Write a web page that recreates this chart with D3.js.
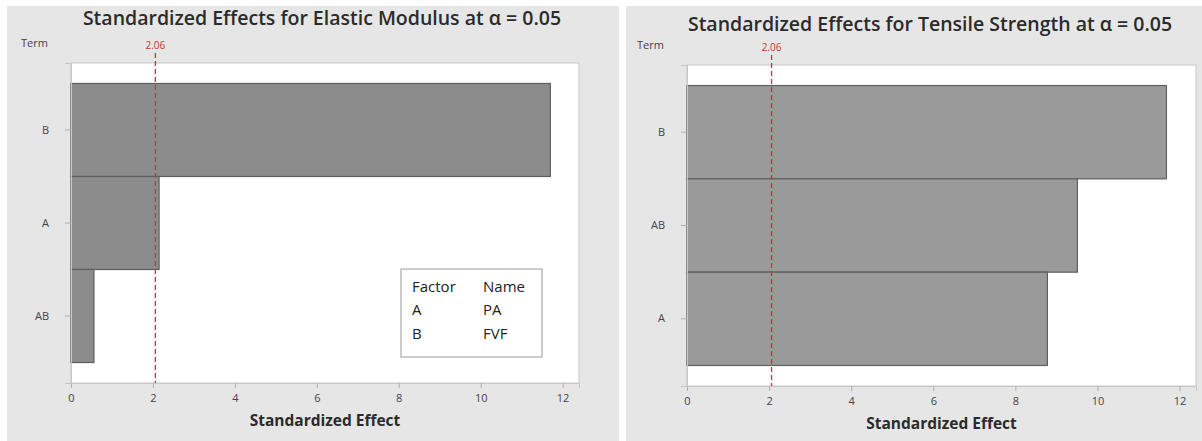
<!DOCTYPE html>
<html>
<head>
<meta charset="utf-8">
<script src="https://d3js.org/d3.v7.min.js"></script>
<style>
  body { margin: 0; background: #fff; }
  text { font-family: "Open Sans", "Noto Sans", sans-serif; }
</style>
</head>
<body>
<svg id="chart" width="1202" height="441"></svg>
<script>
// data
var termsElastic = ["B", "A", "AB"];
var effectsElastic = [11.7, 2.15, 0.56];
var termsTensile = ["B", "AB", "A"];
var effectsTensile = [11.68, 9.51, 8.78];
var xTicks = [0, 2, 4, 6, 8, 10, 12];
var criticalValue = 2.06;
var legendFactors = ["A", "B"];
var legendNames = ["PA", "FVF"];

var svg = d3.select("#chart");

function drawPanel(opt) {
  var g = svg.append("g").attr("transform", "translate(" + opt.x + "," + opt.y + ")");

  // panel background
  g.append("rect")
    .attr("width", opt.w).attr("height", opt.h)
    .attr("fill", "#e6e6e6");

  var pw = opt.plotRight - opt.plotLeft,
      ph = opt.plotBottom - opt.plotTop;
  var x = d3.scaleLinear().domain([0, opt.xMax]).range([0, pw]);
  var y = d3.scaleBand().domain(opt.terms).range([0, ph]).paddingInner(0).paddingOuter(0.22);

  var p = g.append("g").attr("transform", "translate(" + opt.plotLeft + "," + opt.plotTop + ")");

  p.append("rect")
    .attr("width", pw).attr("height", ph)
    .attr("fill", "#fff").attr("stroke", "#c8c8c8");

  // bars
  p.selectAll(".bar")
    .data(opt.values)
    .enter().append("rect")
    .attr("x", x(0))
    .attr("y", function(d, i) { return y(opt.terms[i]); })
    .attr("width", function(d) { return x(d); })
    .attr("height", y.bandwidth())
    .attr("fill", opt.barFill)
    .attr("stroke", "#5e5e5e")
    .attr("stroke-width", 1.2);

  // x axis
  var xa = p.append("g")
    .attr("transform", "translate(0," + ph + ")")
    .call(d3.axisBottom(x).tickValues(xTicks).tickSize(5).tickPadding(6));
  xa.select(".domain").attr("stroke", "#c8c8c8");
  xa.selectAll("line").attr("stroke", "#b0b0b0");
  xa.selectAll("text").attr("fill", "#444").style("font-size", "11px");

  // y axis
  var ya = p.append("g")
    .call(d3.axisLeft(y).tickSize(6).tickPadding(16));
  ya.select(".domain").attr("stroke", "#c8c8c8");
  ya.selectAll("line").attr("stroke", "#b0b0b0");
  ya.selectAll("text").attr("fill", "#444").style("font-size", "11px");

  // reference line
  p.append("line")
    .attr("x1", x(criticalValue)).attr("x2", x(criticalValue))
    .attr("y1", -10).attr("y2", ph)
    .attr("stroke", "#c8323c").attr("stroke-width", 1.3)
    .attr("stroke-dasharray", "5,3");
  p.append("text")
    .attr("x", x(criticalValue)).attr("y", -14)
    .attr("text-anchor", "middle")
    .attr("fill", "#c0392b").style("font-size", "10px")
    .text(criticalValue.toFixed(2));

  // title and labels
  g.append("text")
    .attr("x", opt.titleX).attr("y", opt.titleY)
    .attr("text-anchor", "middle")
    .attr("fill", "#2b2b2b").style("font-size", "19.5px").style("font-weight", 600)
    .text(opt.title);
  g.append("text")
    .attr("x", opt.termX).attr("y", opt.plotTop - 16)
    .attr("fill", "#444").style("font-size", "11px")
    .text("Term");
  g.append("text")
    .attr("x", opt.plotLeft + pw / 2).attr("y", opt.plotBottom + 43)
    .attr("text-anchor", "middle")
    .attr("fill", "#2b2b2b").style("font-size", "15.5px").style("font-weight", "bold")
    .text("Standardized Effect");

  return { g: g, p: p, x: x, y: y };
}

var left = drawPanel({
  x: 7, y: 6, w: 612, h: 435,
  plotLeft: 64, plotRight: 572, plotTop: 57, plotBottom: 377,
  xMax: 12.4, terms: termsElastic, values: effectsElastic,
  barFill: "#8c8c8c",
  title: "Standardized Effects for Elastic Modulus at \u03b1 = 0.05",
  titleX: 315, titleY: 19, termX: 14
});

drawPanel({
  x: 626, y: 6, w: 576, h: 435,
  plotLeft: 61, plotRight: 570, plotTop: 59, plotBottom: 380,
  xMax: 12.4, terms: termsTensile, values: effectsTensile,
  barFill: "#9a9a9a",
  title: "Standardized Effects for Tensile Strength at \u03b1 = 0.05",
  titleX: 304, titleY: 25, termX: 11
});

// legend box in the left panel
var lg = left.p.append("g").attr("transform", "translate(330,206)");
lg.append("rect")
  .attr("width", 141).attr("height", 88)
  .attr("fill", "#fff").attr("stroke", "#999");
lg.append("text").attr("x", 11).attr("y", 23).text("Factor");
lg.append("text").attr("x", 82).attr("y", 23).text("Name");
lg.selectAll(".lf").data(legendFactors).enter().append("text")
  .attr("x", 11).attr("y", function(d, i) { return 46 + i * 24; })
  .text(function(d) { return d; });
lg.selectAll(".ln").data(legendNames).enter().append("text")
  .attr("x", 82).attr("y", function(d, i) { return 46 + i * 24; })
  .text(function(d) { return d; });
lg.selectAll("text").attr("fill", "#222").style("font-size", "15px");
</script>
</body>
</html>
